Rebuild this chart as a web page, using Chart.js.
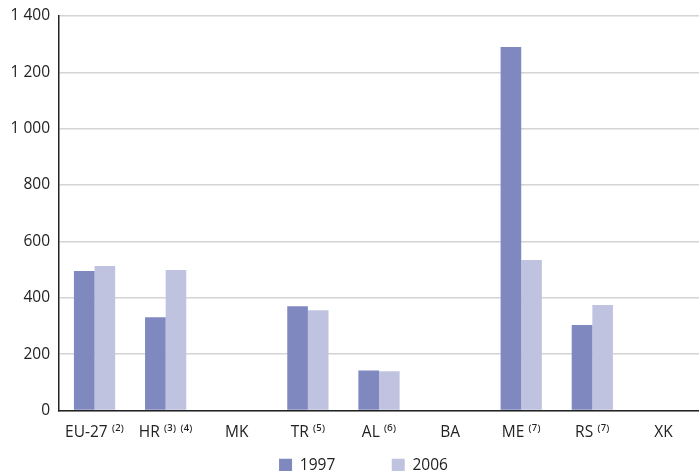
<!DOCTYPE html>
<html>
<head>
<meta charset="utf-8">
<script src="https://cdn.jsdelivr.net/npm/chart.js@4"></script>
<style>
  html, body { margin: 0; padding: 0; background: #fff; }
  #wrap { width: 699px; height: 471px; }
</style>
</head>
<body>
<div id="wrap"><canvas id="chart" width="699" height="471"></canvas></div>
<script>
// Data
const categories = ["EU-27 \u207D\u00B2\u207E", "HR \u207D\u00B3\u207E \u207D\u2074\u207E", "MK", "TR \u207D\u2075\u207E", "AL \u207D\u2076\u207E", "BA", "ME \u207D\u2077\u207E", "RS \u207D\u2077\u207E", "XK"];
const values1997 = [495, 331, null, 370, 142, null, 1290, 303, null];
const values2006 = [513, 499, null, 356, 139, null, 534, 374, null];
const yTicks = [0, 200, 400, 600, 800, 1000, 1200, 1400];

const fontFamily = "'Open Sans', 'Noto Sans', sans-serif";

// Format numbers with a space as thousands separator
function fmt(v) {
  return String(v).replace(/\B(?=(\d{3})+(?!\d))/g, " ");
}

// Nudge the centred legend a little to the right, as in the original
const shiftLegend = {
  id: "shiftLegend",
  afterLayout(chart) {
    chart.legend.left += 14;
    chart.legend.right += 14;
  },
};

const ctx = document.getElementById("chart").getContext("2d");

new Chart(ctx, {
  type: "bar",
  data: {
    labels: categories,
    datasets: [
      { label: "1997", data: values1997, backgroundColor: "#7f89bf" },
      { label: "2006", data: values2006, backgroundColor: "#c0c3e0" },
    ],
  },
  plugins: [shiftLegend],
  options: {
    responsive: false,
    animation: false,
    layout: { padding: { top: 16, right: 0, left: 0, bottom: -12 } },
    datasets: {
      bar: { barPercentage: 1, categoryPercentage: 0.58 },
    },
    plugins: {
      tooltip: { enabled: false },
      legend: {
        position: "bottom",
        labels: {
          boxWidth: 13,
          boxHeight: 13,
          padding: 10,
          color: "#222",
          font: { family: fontFamily, size: 15.5 },
          // widen the gap between the two legend entries
          generateLabels: (chart) => {
            const items = Chart.defaults.plugins.legend.labels.generateLabels(chart);
            items[0].text = items[0].text + "\u2003\u2003\u2003";
            return items;
          },
        },
      },
    },
    scales: {
      x: {
        grid: { display: false, drawTicks: false },
        border: { color: "#222", width: 1.5 },
        ticks: {
          color: "#222",
          padding: 13,
          font: { family: fontFamily, size: 15.5 },
          maxRotation: 0,
          autoSkip: false,
        },
        afterFit: (scale) => { scale.height = 37; },
      },
      y: {
        min: 0,
        max: 1400,
        afterBuildTicks: (scale) => { scale.ticks = yTicks.map((v) => ({ value: v })); },
        grid: { color: "#d4d4d4", lineWidth: 1.5, drawTicks: false },
        border: { color: "#222", width: 1.5 },
        ticks: {
          color: "#222",
          padding: 9,
          font: { family: fontFamily, size: 15.5 },
          callback: (v) => fmt(v),
        },
        afterFit: (scale) => {
          scale.width = 59;
          scale.paddingTop = 0;
        },
      },
    },
  },
});
</script>
</body>
</html>
